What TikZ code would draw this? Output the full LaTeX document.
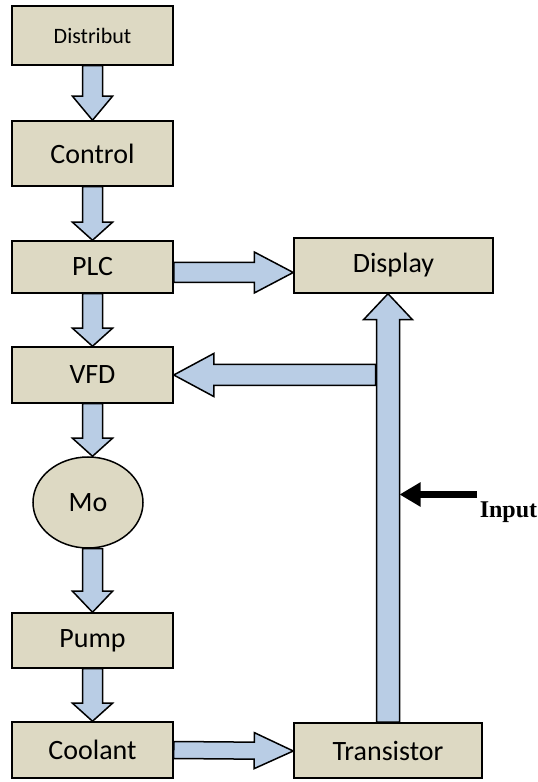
\documentclass[tikz,border=0pt]{standalone}
\usepackage{fontspec}
\setmainfont{Carlito}
\newfontfamily\inputfont{Liberation Serif}
\usepackage{tikz}
\usetikzlibrary{calc,arrows.meta,shapes.geometric}
\definecolor{boxtan}{HTML}{DDD9C3}
\definecolor{arrowblue}{HTML}{B9CDE5}
\tikzset{every picture/.style={line width=1.5pt}}
\tikzset{blk/.style={draw, fill=boxtan, rectangle, inner sep=0pt, font=\fontsize{28}{32}\selectfont}}
\tikzset{oval/.style={blk, ellipse}}
\tikzset{fat shaft/.store in=\fatshaft, fat head/.store in=\fathead, fat wing/.store in=\fatwing,
  fat shaft=10pt, fat head=20pt, fat wing=20pt}
% hollow block arrow, drawn from the start point to the tip
\tikzset{fat/.style={draw, fill=arrowblue, line join=miter,
  to path={let \p1=($(\tikztotarget)-(\tikztostart)$), \n1={atan2(\y1,\x1)},
      \n2={veclen(\x1,\y1)-\fathead} in
    ($(\tikztostart)+(\n1+90:\fatshaft)$) -- ($(\tikztostart)+(\n1:\n2)+(\n1+90:\fatshaft)$)
    -- ($(\tikztostart)+(\n1:\n2)+(\n1+90:\fatwing)$) -- (\tikztotarget)
    -- ($(\tikztostart)+(\n1:\n2)+(\n1-90:\fatwing)$) -- ($(\tikztostart)+(\n1:\n2)+(\n1-90:\fatshaft)$)
    -- ($(\tikztostart)+(\n1-90:\fatshaft)$) -- cycle}}}

\begin{document}
\begin{tikzpicture}[x=1pt,y=1pt]
\useasboundingbox (0,0) rectangle (538,782);
\node[blk, minimum width=161pt, minimum height=59pt, font=\fontsize{22}{26}\selectfont] (dist) at (92.5,746.5) {Distribut};
\node[blk, minimum width=161pt, minimum height=65pt] (ctrl) at (92.5,628.5) {Control};
\node[blk, minimum width=161pt, minimum height=52pt] (plc) at (92.5,515) {PLC};
\node[blk, minimum width=161pt, minimum height=56pt] (vfd) at (92.5,407) {VFD};
\node[oval, minimum width=110pt, minimum height=91pt] (mo) at (88,279.5) {Mo};
\node[blk, minimum width=161pt, minimum height=55pt] (pump) at (92.5,141.5) {Pump};
\node[blk, minimum width=161pt, minimum height=56pt] (cool) at (92.5,32) {Coolant};
\node[blk, minimum width=199pt, minimum height=55pt] (disp) at (393.5,516.5) {Display};
\node[blk, minimum width=188pt, minimum height=55pt] (trans) at (388,31.5) {Transistor};
\node[anchor=base west, inner sep=0pt, font=\inputfont\bfseries\fontsize{24}{28}\selectfont] (inlbl) at (479,264) {Input};

% main column
\draw[fat, fat head=24pt] (dist.south) to (ctrl.north);
\draw[fat, fat head=18pt] (ctrl.south) to (plc.north);
\draw[fat, fat head=18pt] (plc.south) to (vfd.north);
\draw[fat, fat head=18pt] (vfd.south) to (vfd.south |- mo.north);
\draw[fat, fat head=21pt] (mo.south -| pump.north) to (pump.north);
\draw[fat, fat head=18pt] (pump.south) to (cool.north);

% side branch
\draw[fat, fat head=39pt, fat wing=20.5pt] ([yshift=-5.5pt]plc.east) to ([yshift=-7pt]disp.west);
\draw[fat, fat head=39pt, fat shaft=8.5pt, fat wing=18pt] (cool.east) to ([yshift=-0.5pt]trans.west);
\draw[fat, fat head=26pt, fat shaft=11.5pt, fat wing=24.5pt] (trans.north) to (trans.north |- disp.south);
\coordinate (tap) at ([xshift=-12.5pt]trans.north |- vfd.east);
\draw[fat, fat head=40pt, fat shaft=10.5pt, fat wing=21.5pt] (tap) to (vfd.east);

% input signal
\coordinate (inarr) at (477,287.5);
\coordinate (inend) at ([xshift=11.5pt]trans.north |- inarr);
\draw[line width=7pt, -{Triangle[length=21pt,width=23pt]}] (inarr) -- (inend);
\end{tikzpicture}
\end{document}
